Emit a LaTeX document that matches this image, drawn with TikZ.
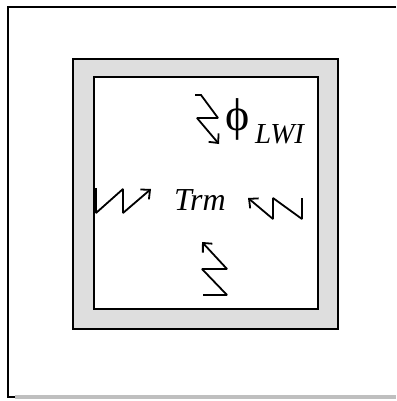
\documentclass[tikz,border=0pt]{standalone}
\usepackage{fontspec}
\setmainfont{Liberation Serif}
\usetikzlibrary{arrows.meta, positioning}
\tikzset{
  frame/.style={draw=black, line width=1.8pt},
  wall/.style ={draw=black, fill=black!13, line width=2pt},
  room/.style ={draw=black, fill=white, line width=2pt},
  bolt/.style ={line width=1.8pt, miter limit=2,
    -{Straight Barb[length=7pt, width=13pt, line width=1.8pt]}},
  greek text/.style={inner sep=0pt, font=\fontsize{46}{46}\selectfont},
  var text/.style  ={inner sep=0pt, font=\fontsize{32}{32}\selectfont\itshape},
}

\begin{document}
\begin{tikzpicture}[x=1pt, y=-1pt]
  \useasboundingbox (0,0) rectangle (396,401);

  % outer frame
  \draw[frame] (396,7) -- (8,7) -- (8,397) -- (15,397);
  \draw[draw=black!25, line width=4pt] (15,397) -- (396,397);

  % wall and room
  \draw[wall] (73,59) rectangle (338,329);
  \draw[room] (94,77) rectangle (318,309);

  % radiation / heat flow
  \draw[bolt] (195,95) -- (201,95) -- (218,118) -- (197,118) -- (219,144);
  \draw[bolt] (96,188) -- (96,213) -- (123,189) -- (123,213) -- (151,189);
  \draw[bolt] (302,198) -- (302,219) -- (273,198) -- (273,219) -- (248,198);
  \draw[bolt] (203,295) -- (227,295) -- (202,269) -- (227,269) -- (202,242);

  % labels
  \node[greek text, anchor=base west] (phi) at (225,130) {ϕ};
  \node[var text, anchor=base west] (lwi) at (255,143) {\fontsize{29}{29}\selectfont LWI};
  \node[var text, anchor=base] (trm) at (200,210) {Trm};

\end{tikzpicture}
\end{document}
